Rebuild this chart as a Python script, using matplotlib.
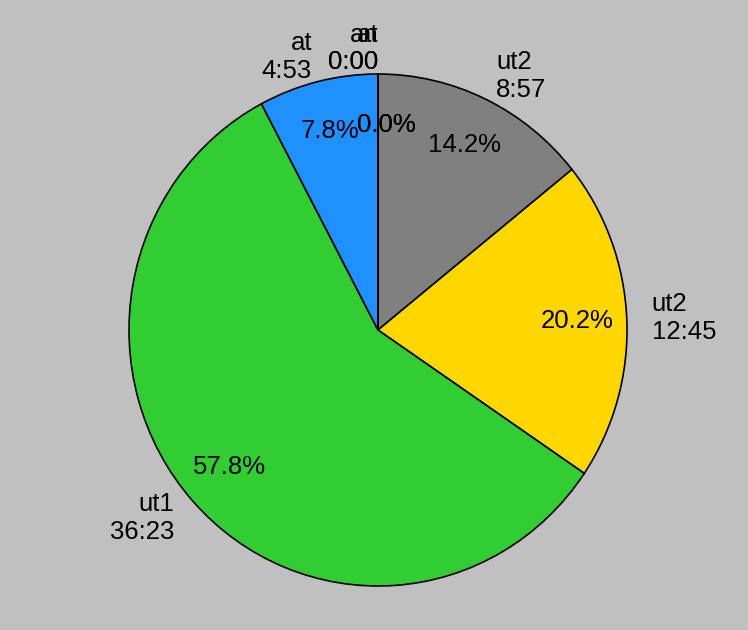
import numpy as np
import matplotlib
matplotlib.use('Agg')
import matplotlib.pyplot as plt

# slices, clockwise from the top
labels = ['ut2', 'ut2', 'ut1', 'at', 'an', 'at']
times = ['8:57', '12:45', '36:23', '4:53', '0:00', '0:00']
colors = ['gray', 'gold', 'limegreen', 'dodgerblue', 'red', 'orange']


def to_sec(t):
    m, s = t.split(':')
    return int(m) * 60 + int(s)


secs = [to_sec(t) for t in times]
texts = [l + '\n' + t for l, t in zip(labels, times)]

plt.rcParams['font.family'] = ['Liberation Sans', 'DejaVu Sans']

fig = plt.figure(figsize=(7.48, 6.3), dpi=100, facecolor='#c0c0c0')
ax = fig.add_axes([0, 0, 1, 1])
ax.set_facecolor('#c0c0c0')

wedges, lab_texts, pct_texts = ax.pie(
    secs, labels=texts, colors=colors, autopct='%1.1f%%',
    startangle=90, counterclock=False,
    labeldistance=1.1, pctdistance=0.8,
    wedgeprops=dict(edgecolor='black', linewidth=1.2),
    textprops=dict(fontsize=18.5, color='black'))

# empty slices sit right at the top: labels end on the centre line
for s, t, p in zip(secs, lab_texts, pct_texts):
    if s == 0:
        t.set_horizontalalignment('right')
        p.set_x(p.get_position()[0] + 0.032)

# slightly oval, as in the reference
ax.set_aspect('auto')
ax.set_xlim(-378 / 249, (748 - 378) / 249)
ax.set_ylim(-300 / 256, 330 / 256)
ax.axis('off')

fig.savefig('out.png', dpi=100, facecolor='#c0c0c0')
